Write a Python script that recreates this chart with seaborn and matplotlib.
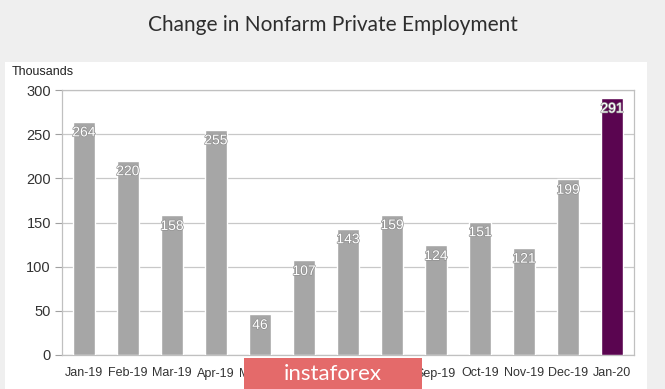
import matplotlib
matplotlib.use("Agg")
import matplotlib.pyplot as plt
import matplotlib.patheffects as pe
from matplotlib.patches import Rectangle
import seaborn as sns
import pandas as pd

# Daten
months = ["Jan-19", "Feb-19", "Mar-19", "Apr-19", "May-19", "Jun-19", "Jul-19",
          "Aug-19", "Sep-19", "Oct-19", "Nov-19", "Dec-19", "Jan-20"]
values = [264, 220, 158, 255, 46, 107, 143, 159, 124, 151, 121, 199, 291]
bar_colors = ["#a6a6a6"] * 12 + ["#5a0550"]

df = pd.DataFrame({"month": months, "value": values})

sns.set_style("white")
plt.rcParams["font.family"] = ["Liberation Sans", "DejaVu Sans"]

fig = plt.figure(figsize=(6.65, 3.89), dpi=100)
fig.patch.set_facecolor("#efefef")

# weisses Panel hinter dem Diagramm
fig.patches.append(Rectangle((5 / 665, 0), 642 / 665, (389 - 62) / 389,
                             transform=fig.transFigure, facecolor="white",
                             edgecolor="none", zorder=-5))

ax = fig.add_axes([62 / 665, (389 - 355) / 389, 572 / 665, 265 / 389])
ax.set_facecolor("white")

sns.barplot(data=df, x="month", y="value", hue="month", palette=bar_colors,
            legend=False, width=0.5, saturation=1, ax=ax, zorder=3)

ax.set_ylim(0, 300)
ax.set_xlim(-0.5, len(months) - 0.5)
ax.set_yticks(range(0, 301, 50))
ax.yaxis.grid(True, color="#c8c8c8", linewidth=0.9, zorder=0)
ax.set_axisbelow(True)
for s in ax.spines.values():
    s.set_color("#c0c0c0")
    s.set_linewidth(0.9)

ax.set_xlabel("")
ax.set_ylabel("")
ax.tick_params(axis="y", labelsize=10.5, colors="#333333", length=5, width=0.8,
               left=True, direction="out", pad=3)
ax.tick_params(axis="y", color="#a0a0a0")
ax.set_xticks(range(len(months)))
ax.set_xticklabels(months, fontsize=9, color="#333333")
ax.tick_params(axis="x", length=0, pad=9)
# kleine Striche zwischen den Kategorien
ax.set_xticks([i - 0.5 for i in range(len(months) + 1)], minor=True)
ax.tick_params(axis="x", which="minor", length=5, color="#a0a0a0", width=0.8)

for i, v in enumerate(values):
    ax.text(i, v - 4, str(v), ha="center", va="top", fontsize=10,
            color="white", zorder=5,
            path_effects=[pe.withStroke(linewidth=1.0, foreground="#909090")])

fig.text(12 / 665, 1 - 72 / 389, "Thousands", fontsize=9, color="#222222",
         va="center", ha="left")
fig.text(0.5, 1 - 25 / 389, "Change in Nonfarm Private Employment",
         fontsize=15, color="#2e2e2e", ha="center", va="center",
         family=["Lato", "DejaVu Sans"])

# Wasserzeichen
fig.patches.append(Rectangle((244 / 665, 0), 178 / 665, 31 / 389,
                             transform=fig.transFigure, facecolor="#e46a6a",
                             edgecolor="none", zorder=10))
fig.text(333 / 665, 15 / 389, "instaforex", fontsize=16, color="white",
         ha="center", va="center", zorder=11,
         family=["Lato", "DejaVu Sans"])

plt.savefig("out.png", dpi=100, facecolor=fig.get_facecolor())
